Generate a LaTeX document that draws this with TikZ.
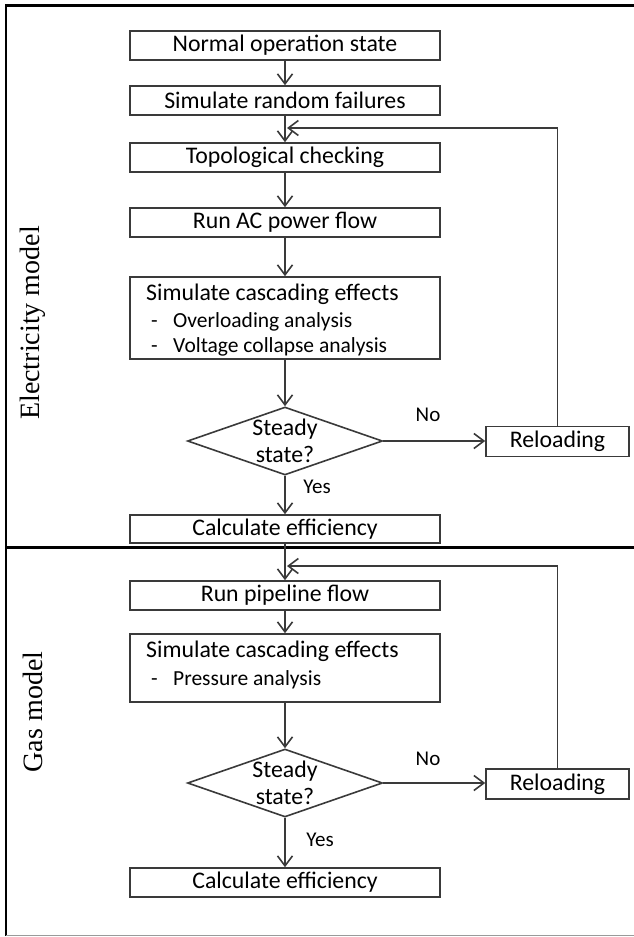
\documentclass[tikz,border=0pt]{standalone}
\usepackage{fontspec}
\setmainfont{Carlito}
\newfontfamily\serifl{Liberation Serif}
\usetikzlibrary{arrows.meta,shapes.geometric}
\definecolor{linec}{HTML}{3A3A3A}
\definecolor{botc}{HTML}{9A9A9A}
\begin{document}
\begin{tikzpicture}[x=1pt,y=-1pt,
  box/.style={draw=linec, line width=1.6pt, minimum width=310pt, minimum height=29pt, inner sep=0pt, font=\fontsize{23.8}{26}\selectfont, text=black},
  bigbox/.style={box, minimum height=#1},
  relbox/.style={box, minimum width=143pt, minimum height=30pt},
  dia/.style={draw=linec, line width=1.6pt, shape=diamond, minimum width=195pt, minimum height=68pt, inner sep=0pt},
  diatext/.style={align=center, inner sep=0pt, font=\fontsize{23.8}{27.5}\selectfont},
  itemtext/.style={inner sep=0pt, anchor=west, text height=16pt, text depth=5pt},
  lbl/.style={inner sep=0pt, font=\fontsize{21}{24}\selectfont},
  side/.style={inner sep=0pt, rotate=90, font=\serifl\fontsize{28}{32}\selectfont},
  arr/.style={draw=linec, line width=1.6pt, -{Straight Barb[length=10pt,width=15pt,line width=1.6pt]}},
  frame/.style={draw=black, line width=2.5pt}
]
\useasboundingbox (0,0) rectangle (634,937);
% frame
\coordinate (ftl) at (6,5.5);
\coordinate (ftr) at (634,5.5);
\coordinate (fbl) at (6,935.5);
\coordinate (fbr) at (634,935.5);
\coordinate (dvl) at (6,547.5);
\coordinate (dvr) at (634,547.5);
\draw[frame] (ftr) -- (ftl) -- (fbl);
\draw[draw=botc, line width=1.8pt] (fbl) -- (fbr);
\draw[frame] (dvl) -- (dvr);

% side labels
\node[side] (elab) at (33,323) {Electricity model};
\node[side] (glab) at (33,712) {Gas model};

% electricity model
\node[box] (b1) at (285,45.5) {Normal operation state};
\node[box] (b2) at (285,100.5) {Simulate random failures};
\node[box] (b3) at (285,157.5) {Topological checking};
\node[box] (b4) at (285,222.5) {Run AC power flow};
\node[bigbox=82pt] (b5) at (285,318) {};
\node[itemtext, font=\fontsize{23.8}{26}\selectfont] (b5t) at (146,295) {Simulate cascading effects};
\node[itemtext, font=\fontsize{21.5}{24}\selectfont] (b5d1) at (151,322) {-};
\node[itemtext, font=\fontsize{21.5}{24}\selectfont] (b5i1) at (173,322) {Overloading analysis};
\node[itemtext, font=\fontsize{21.5}{24}\selectfont] (b5d2) at (151,347) {-};
\node[itemtext, font=\fontsize{21.5}{24}\selectfont] (b5i2) at (173,347) {Voltage collapse analysis};
\node[dia] (d1) at (285,441) {};
\node[diatext] (d1t) at (285,441) {Steady\\state?};
\node[relbox] (r1) at (557.5,441.5) {Reloading};
\node[box, minimum height=28pt] (c1) at (285,529) {Calculate efficiency};
\node[lbl] (no1) at (428,415) {No};
\node[lbl] (yes1) at (317,487) {Yes};
\coordinate (j1) at (287,128);

\draw[arr] (b1) -- (b2);
\draw[arr] (b2) -- (b3);
\draw[arr] (b3) -- (b4);
\draw[arr] (b4) -- (b5);
\draw[arr] (b5) -- (d1);
\draw[arr] (d1) -- (c1);
\draw[arr] (d1.east) -- (d1.east -| r1.west);
\draw[arr] (r1.north) |- (j1);

% gas model
\node[box] (p1) at (285,595.5) {Run pipeline flow};
\node[bigbox=68pt] (g5) at (285,668) {};
\node[itemtext, font=\fontsize{23.8}{26}\selectfont] (g5t) at (146,652) {Simulate cascading effects};
\node[itemtext, font=\fontsize{21.5}{24}\selectfont] (g5d1) at (151,680) {-};
\node[itemtext, font=\fontsize{21.5}{24}\selectfont] (g5i1) at (173,680) {Pressure analysis};
\node[dia] (d2) at (285,783) {};
\node[diatext] (d2t) at (285,783) {Steady\\state?};
\node[relbox] (r2) at (557.5,784) {Reloading};
\node[box] (c2) at (285,882.5) {Calculate efficiency};
\node[lbl] (no2) at (428,759) {No};
\node[lbl] (yes2) at (320,840) {Yes};
\coordinate (j2) at (287,566);

\draw[arr] (c1) -- (p1);
\draw[arr] (p1) -- (g5);
\draw[arr] (g5) -- (d2);
\draw[arr] (d2) -- (c2);
\draw[arr] (d2.east) -- (d2.east -| r2.west);
\draw[arr] (r2.north) |- (j2);
\end{tikzpicture}
\end{document}
